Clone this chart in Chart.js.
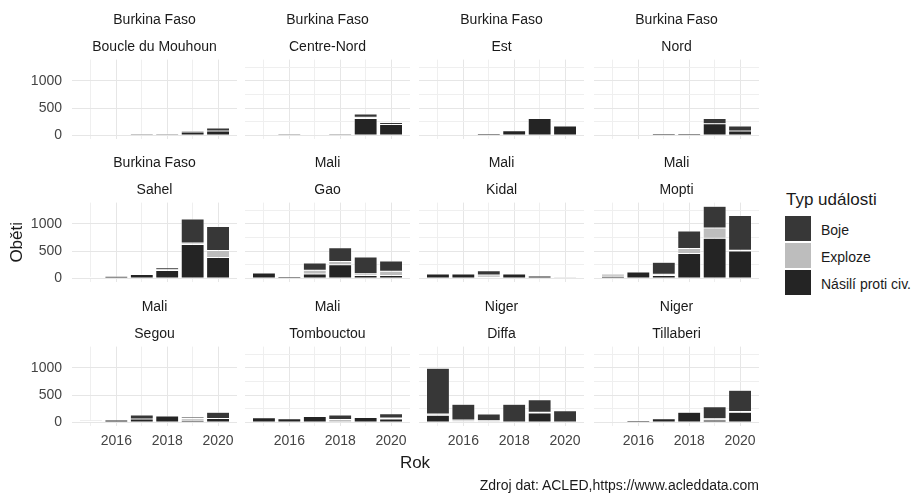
<!DOCTYPE html>
<html>
<head>
<meta charset="utf-8">
<script src="https://cdn.jsdelivr.net/npm/chart.js@4/dist/chart.umd.min.js"></script>
<style>
  body { margin: 0; background: #fff; font-family: "Liberation Sans", Arial, sans-serif; }
  #wrap { position: relative; width: 914px; height: 493px; overflow: hidden; }
  #wrap canvas { position: absolute; }
  .txt { position: absolute; white-space: nowrap; color: #1a1a1a; line-height: 1; transform: translateY(-50%); }
  .key { position: absolute; width: 26px; height: 25px; }
</style>
</head>
<body>
<div id="wrap"></div>
<script>
const YEARS = [2015, 2016, 2017, 2018, 2019, 2020]

const COUNTRIES = [
  "Burkina Faso", "Burkina Faso", "Burkina Faso", "Burkina Faso",
  "Burkina Faso", "Mali", "Mali", "Mali",
  "Mali", "Mali", "Niger", "Niger",
]

const REGIONS = [
  "Boucle du Mouhoun", "Centre-Nord", "Est", "Nord",
  "Sahel", "Gao", "Kidal", "Mopti",
  "Segou", "Tombouctou", "Diffa", "Tillaberi",
]

// obeti po letech 2015-2020, jedna radka = jeden region
const NASILI = [
  [0, 0, 30, 30, 60, 80],
  [0, 30, 0, 30, 310, 200],
  [0, 0, 35, 85, 310, 170],
  [0, 0, 35, 35, 215, 80],
  [25, 40, 70, 145, 620, 380],
  [100, 35, 80, 250, 55, 55],
  [80, 80, 20, 80, 45, 0],
  [40, 115, 55, 455, 735, 500],
  [25, 45, 60, 115, 40, 70],
  [85, 65, 110, 0, 90, 60],
  [130, 10, 0, 0, 170, 0],
  [0, 35, 65, 185, 45, 185],
]

const EXPLOZE = [
  [0, 0, 0, 0, 0, 0],
  [0, 0, 0, 0, 20, 0],
  [0, 0, 0, 0, 0, 0],
  [0, 0, 0, 0, 0, 0],
  [0, 0, 0, 15, 25, 130],
  [0, 0, 70, 60, 30, 75],
  [0, 0, 40, 0, 0, 30],
  [40, 0, 20, 90, 185, 15],
  [25, 0, 0, 0, 30, 0],
  [0, 0, 0, 55, 0, 20],
  [25, 35, 30, 0, 15, 0],
  [0, 0, 0, 0, 20, 15],
]

const BOJE = [
  [0, 0, 10, 10, 25, 55],
  [0, 10, 0, 10, 60, 35],
  [0, 0, 0, 0, 0, 0],
  [0, 0, 0, 0, 95, 90],
  [10, 10, 15, 35, 440, 440],
  [0, 0, 130, 250, 305, 190],
  [0, 0, 80, 0, 0, 0],
  [0, 0, 220, 320, 400, 635],
  [0, 0, 75, 0, 30, 115],
  [0, 0, 0, 80, 0, 80],
  [835, 285, 125, 330, 230, 215],
  [0, 0, 0, 0, 220, 390],
]

// poradi odspodu nahoru
const SERIES = ["Násilí proti civ.", "Exploze", "Boje"]
const SERIES_DATA = [NASILI, EXPLOZE, BOJE]
const SERIES_COLORS = ["#242424", "#bdbdbd", "#373737"]

const Y_TICKS = [0, 250, 500, 750, 1000, 1250]
const Y_LABELS = [0, 500, 1000]
const X_LABELS = [2016, 2018, 2020]

const COL_LEFT = [72, 245, 419, 594]
const ROW_TOP = [60, 203, 347]
const PLOT_W = 165
const PLOT_H = 79
const FONT = "'Liberation Sans', Arial, sans-serif"

let maxTotal = 0
REGIONS.forEach(function (r, i) {
  YEARS.forEach(function (y, k) {
    const total = NASILI[i][k] + EXPLOZE[i][k] + BOJE[i][k]
    if (total > maxTotal) maxTotal = total
  })
})

const Y_MIN = -0.05 * maxTotal
const Y_MAX = 1.05 * maxTotal
const X_SPAN = YEARS[YEARS.length - 1] - YEARS[0] + 0.9
const X_MIN = YEARS[0] - 0.45 - 0.05 * X_SPAN
const X_MAX = YEARS[YEARS.length - 1] + 0.45 + 0.05 * X_SPAN

const wrap = document.getElementById("wrap")

function drawPanel(i) {
  const row = Math.floor(i / 4)
  const col = i % 4
  const left = col === 0 ? 0 : COL_LEFT[col] - 4
  const axisW = COL_LEFT[col] - left
  const axisH = row === 2 ? 30 : 4
  const top = ROW_TOP[row] - 60

  const canvas = document.createElement("canvas")
  canvas.width = COL_LEFT[col] + PLOT_W + 4 - left
  canvas.height = 60 + PLOT_H + axisH
  canvas.style.left = left + "px"
  canvas.style.top = top + "px"
  wrap.appendChild(canvas)

  const datasets = SERIES_DATA.map(function (src, s) {
    return {
      label: SERIES[s],
      data: YEARS.map(function (year, k) {
        return { x: year, y: src[i][k] }
      }),
      backgroundColor: SERIES_COLORS[s],
      borderColor: "#ffffff",
      borderWidth: 0.5,
      borderSkipped: false,
      barPercentage: 0.9,
      categoryPercentage: 1,
    }
  })

  new Chart(canvas, {
    type: "bar",
    data: { datasets: datasets },
    options: {
      responsive: false,
      animation: false,
      events: [],
      layout: { padding: { left: 0, right: 4, top: 0, bottom: 0 } },
      plugins: {
        legend: { display: false },
        tooltip: { enabled: false },
        title: {
          display: true,
          text: COUNTRIES[i],
          fullSize: false,
          color: "#1a1a1a",
          font: { family: FONT, size: 14, weight: "normal", lineHeight: 1.2 },
          padding: { top: 12, bottom: 5 },
        },
        subtitle: {
          display: true,
          text: REGIONS[i],
          fullSize: false,
          color: "#1a1a1a",
          font: { family: FONT, size: 14, weight: "normal", lineHeight: 1.2 },
          padding: { top: 5, bottom: 4 },
        },
      },
      scales: {
        x: {
          type: "linear",
          stacked: true,
          offset: false,
          min: X_MIN,
          max: X_MAX,
          afterBuildTicks: function (scale) {
            scale.ticks = YEARS.map(function (v) { return { value: v } })
          },
          afterFit: function (scale) {
            scale.height = axisH
            scale.paddingLeft = 0
            scale.paddingRight = 0
          },
          grid: {
            offset: false,
            drawTicks: false,
            lineWidth: 1,
            color: function (ctx) {
              return ctx.tick && X_LABELS.includes(ctx.tick.value) ? "#e6e6e6" : "#efefef"
            },
          },
          border: { display: false },
          ticks: {
            display: row === 2,
            autoSkip: false,
            maxRotation: 0,
            padding: 7,
            color: "#444444",
            font: { family: FONT, size: 14 },
            callback: function (v) {
              return X_LABELS.includes(v) ? String(v) : ""
            },
          },
        },
        y: {
          stacked: true,
          min: Y_MIN,
          max: Y_MAX,
          afterBuildTicks: function (scale) {
            scale.ticks = Y_TICKS.map(function (v) { return { value: v } })
          },
          afterFit: function (scale) {
            scale.width = axisW
            scale.paddingTop = 0
            scale.paddingBottom = 0
          },
          grid: {
            drawTicks: false,
            lineWidth: 1,
            color: function (ctx) {
              return ctx.tick && Y_LABELS.includes(ctx.tick.value) ? "#e6e6e6" : "#efefef"
            },
          },
          border: { display: false },
          title: {
            display: i === 4,
            text: "Oběti",
            color: "#1a1a1a",
            font: { family: FONT, size: 17 },
            padding: { top: 7, bottom: 0 },
          },
          ticks: {
            display: col === 0,
            padding: 10,
            color: "#444444",
            font: { family: FONT, size: 14 },
            callback: function (v) {
              return Y_LABELS.includes(v) ? String(v) : ""
            },
          },
        },
      },
    },
  })
}

REGIONS.forEach(function (r, i) {
  drawPanel(i)
})

function addText(text, x, y, size, extra) {
  const el = document.createElement("div")
  el.className = "txt"
  el.textContent = text
  el.style.left = x + "px"
  el.style.top = y + "px"
  el.style.fontSize = size + "px"
  if (extra) Object.assign(el.style, extra)
  wrap.appendChild(el)
  return el
}

// osa x a zdroj
addText("Rok", 415, 462, 17, { transform: "translate(-50%, -50%)" })
addText("Zdroj dat: ACLED,https://www.acleddata.com", 0, 485, 14, {
  left: "auto", right: (914 - 759) + "px",
})

// legenda
addText("Typ události", 786, 199, 17)
const legendOrder = [2, 1, 0]
legendOrder.forEach(function (s, n) {
  const key = document.createElement("div")
  key.className = "key"
  key.style.left = "785px"
  key.style.top = (216 + n * 27) + "px"
  key.style.background = SERIES_COLORS[s]
  wrap.appendChild(key)
  addText(SERIES[s], 821, 230 + n * 27, 14)
})
</script>
</body>
</html>
